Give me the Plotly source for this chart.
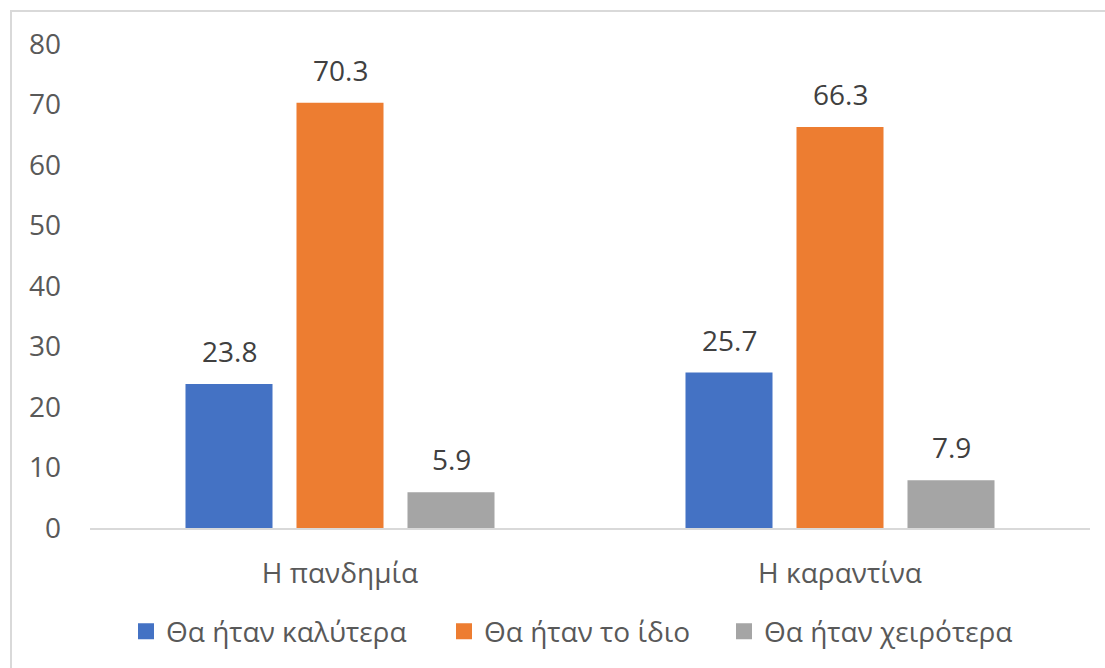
import plotly.graph_objects as go

categories = ["Η πανδημία", "Η καραντίνα"]
series_names = ["Θα ήταν καλύτερα", "Θα ήταν το ίδιο", "Θα ήταν χειρότερα"]
better = [23.8, 25.7]
same = [70.3, 66.3]
worse = [5.9, 7.9]
y_ticks = [0, 10, 20, 30, 40, 50, 60, 70, 80]

colors = ["#4472C4", "#ED7D31", "#A5A5A5"]
FONT = "Open Sans"
FS = 28
values = [better, same, worse]

fig = go.Figure()
for name, vals, col in zip(series_names, values, colors):
    fig.add_trace(go.Bar(
        x=categories, y=vals, name=name, marker_color=col,
        marker_line_width=0, showlegend=False,
    ))

# one legend per series so each entry can be placed on its own
legend_ids = ["legend", "legend2", "legend3"]
legend_x = [0.036, 0.354, 0.634]
for name, col, lid in zip(series_names, colors, legend_ids):
    fig.add_trace(go.Scatter(
        x=[None], y=[None], mode="markers", name=name, legend=lid,
        marker=dict(symbol="square", size=16, color=col),
    ))

# value labels above each bar
slot = 111
for i, vals in enumerate(values):
    for cat, v in zip(categories, vals):
        fig.add_annotation(
            x=cat, y=v, text=f"{v:.1f}", showarrow=False,
            xshift=(i - 1) * slot, yanchor="bottom", yshift=12,
            font=dict(family=FONT, size=FS, color="#404040"),
        )

# outer chart border
fig.add_shape(
    type="rect", xref="paper", yref="paper",
    x0=-0.079, x1=1.03, y0=-0.32, y1=1.068,
    line=dict(color="#D9D9D9", width=2), fillcolor="rgba(0,0,0,0)", layer="below",
)

legend_style = dict(
    orientation="h", xanchor="left", y=-0.16, yanchor="top",
    font=dict(family=FONT, size=FS, color="#595959"),
    bgcolor="rgba(0,0,0,0)",
)

fig.update_layout(
    width=1105, height=668,
    margin=dict(l=90, r=15, t=44, b=139),
    paper_bgcolor="white", plot_bgcolor="white",
    barmode="group", bargap=0.334, bargroupgap=0.216,
    font=dict(family=FONT, size=FS, color="#595959"),
    legend=dict(x=legend_x[0], **legend_style),
    legend2=dict(x=legend_x[1], **legend_style),
    legend3=dict(x=legend_x[2], **legend_style),
    xaxis=dict(
        showline=True, linecolor="#D9D9D9", linewidth=2,
        showgrid=False, ticks="", ticklabelstandoff=19,
        tickfont=dict(family=FONT, size=FS, color="#595959"),
    ),
    yaxis=dict(
        range=[0, 80], tickvals=y_ticks, showgrid=False, zeroline=False,
        showline=False, ticks="", ticklabelstandoff=28,
        tickfont=dict(family=FONT, size=FS, color="#595959"),
    ),
)

fig.write_html("out.html")
